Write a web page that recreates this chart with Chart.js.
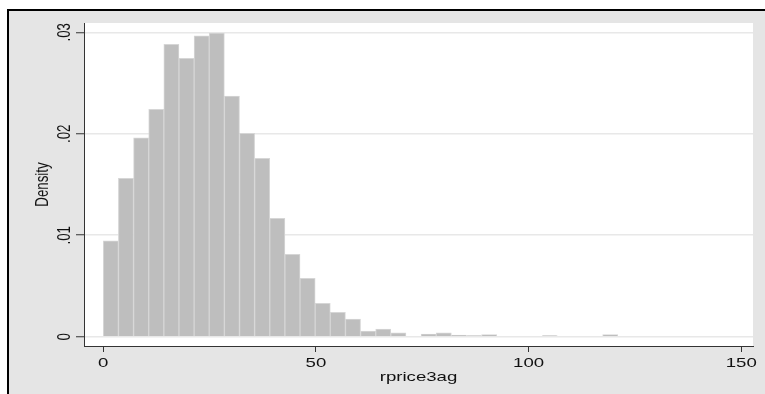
<!DOCTYPE html>
<html>
<head>
<meta charset="utf-8">
<script src="https://cdn.jsdelivr.net/npm/chart.js@4.4.1/dist/chart.umd.min.js"></script>
<style>
  body { margin: 0; background: #ffffff; }
  canvas { display: block; }
</style>
</head>
<body>
<canvas id="histChart" width="765" height="394"></canvas>
<script>
// histogram of rprice3ag, bin width
const binWidth = 3.558;
const densities = [
  0.00946, 0.01561, 0.01961, 0.02240, 0.02881, 0.02743, 0.02966, 0.02992,
  0.02371, 0.02004, 0.01758, 0.01166, 0.00812, 0.00575, 0.00329, 0.00240,
  0.00174, 0.00056, 0.00076, 0.00039, 0, 0.00027, 0.00039, 0.00017,
  0.00010, 0.00020, 0, 0, 0, 0.00010, 0, 0, 0, 0.00020
];
const xTickValues = [0, 50, 100, 150];
const xTickLabels = ['0', '50', '100', '150'];
const yTickValues = [0, 0.01, 0.02, 0.03];
const yTickLabels = ['0', '.01', '.02', '.03'];
const xTitle = 'rprice3ag';
const yTitle = 'Density';

// the original picture is stretched sideways, so text is too
const textStretch = 1.4;
const fontSpec = '13.3px "Liberation Sans", Arial, sans-serif';

const barData = densities.map((d, i) => ({ x: (i + 0.5) * binWidth, y: d }));

const stataFrame = {
  id: 'stataFrame',
  beforeDraw: (chart) => {
    const ctx = chart.ctx;
    const area = chart.chartArea;
    ctx.save();
    ctx.fillStyle = '#ffffff';
    ctx.fillRect(0, 0, chart.width, chart.height);
    ctx.fillStyle = '#e5e5e5';
    ctx.fillRect(9, 11, chart.width - 9, chart.height - 11);
    ctx.fillStyle = '#000000';
    ctx.fillRect(7, 9, chart.width - 7, 2);
    ctx.fillRect(7, 9, 2, chart.height - 9);
    ctx.fillStyle = '#ffffff';
    ctx.fillRect(area.left, area.top, area.right - area.left, area.bottom - area.top);
    ctx.restore();
  }
};

const drawStretched = (ctx, text, x, y, rotated) => {
  ctx.save();
  ctx.translate(x, y);
  ctx.scale(textStretch, 1);
  if (rotated) {
    ctx.rotate(-Math.PI / 2);
  }
  ctx.fillText(text, 0, 0);
  ctx.restore();
};

const stataText = {
  id: 'stataText',
  afterDraw: (chart) => {
    const ctx = chart.ctx;
    const xScale = chart.scales.x;
    const yScale = chart.scales.y;
    const area = chart.chartArea;
    ctx.save();
    ctx.font = fontSpec;
    ctx.fillStyle = '#111111';
    ctx.textAlign = 'center';
    ctx.textBaseline = 'middle';

    for (const index in xTickValues) {
      drawStretched(ctx, xTickLabels[index], xScale.getPixelForValue(xTickValues[index]), 363, false);
    }
    for (const index in yTickValues) {
      drawStretched(ctx, yTickLabels[index], 65, yScale.getPixelForValue(yTickValues[index]), true);
    }

    drawStretched(ctx, xTitle, (area.left + area.right) / 2, 377, false);
    drawStretched(ctx, yTitle, 43, (area.top + area.bottom) / 2, true);
    ctx.restore();
  }
};

const ctx = document.getElementById('histChart');

new Chart(ctx, {
  type: 'bar',
  data: {
    datasets: [{
      label: yTitle,
      data: barData,
      backgroundColor: '#bebebe',
      borderColor: '#d6d6d6',
      borderWidth: 1,
      barPercentage: 1,
      categoryPercentage: 1
    }]
  },
  options: {
    responsive: false,
    animation: false,
    devicePixelRatio: 1,
    layout: {
      padding: { top: 23, left: 0, right: 12, bottom: 0 }
    },
    plugins: {
      legend: { display: false },
      tooltip: { enabled: false }
    },
    scales: {
      x: {
        type: 'linear',
        offset: false,
        min: -4.538,
        max: 152.76,
        afterBuildTicks: (scale) => {
          scale.ticks = xTickValues.map(v => ({ value: v }));
        },
        afterFit: (scale) => {
          scale.height = 48;
        },
        ticks: { display: false },
        grid: {
          offset: false,
          drawOnChartArea: false,
          drawTicks: true,
          tickLength: 6,
          tickColor: '#333333',
          tickWidth: 1
        },
        border: { display: true, color: '#333333', width: 1 }
      },
      y: {
        type: 'linear',
        min: -0.000917,
        max: 0.030917,
        afterBuildTicks: (scale) => {
          scale.ticks = yTickValues.map(v => ({ value: v }));
        },
        afterFit: (scale) => {
          scale.width = 84;
        },
        ticks: { display: false },
        grid: {
          color: '#e8e8e8',
          lineWidth: 1.5,
          drawTicks: true,
          tickLength: 8,
          tickColor: '#333333',
          tickWidth: 1
        },
        border: { display: true, color: '#333333', width: 1 }
      }
    }
  },
  plugins: [stataFrame, stataText]
});
</script>
</body>
</html>
